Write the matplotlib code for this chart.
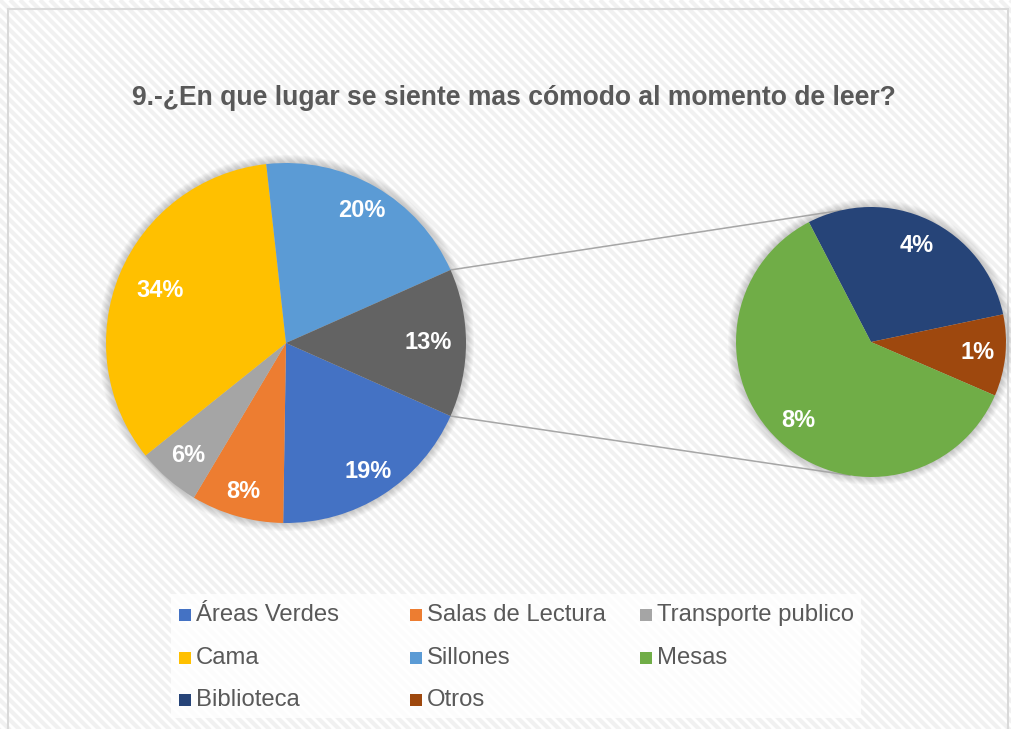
import matplotlib
matplotlib.use('Agg')
import matplotlib.pyplot as plt
from matplotlib.patches import Rectangle, Circle
from matplotlib.collections import LineCollection
import numpy as np

plt.rcParams['font.family'] = ['Liberation Sans', 'DejaVu Sans']

# ---------------- data ----------------
title = "9.-¿En que lugar se siente mas cómodo al momento de leer?"
main_labels = ["Áreas Verdes", "Salas de Lectura", "Transporte publico", "Cama", "Sillones"]
main_values = [18.6, 8.3, 5.7, 34.0, 20.1]
main_colors = ["#4472C4", "#ED7D31", "#A5A5A5", "#FFC000", "#5B9BD5"]
sub_labels = ["Biblioteca", "Otros", "Mesas"]
sub_values = [3.9, 1.3, 8.1]
sub_colors = ["#264478", "#9E480E", "#70AD47"]
other_color = "#636363"
legend_order = ["Áreas Verdes", "Salas de Lectura", "Transporte publico",
                "Cama", "Sillones", "Mesas", "Biblioteca", "Otros"]

# ---------------- figure ----------------
W, H = 1011, 729
fig = plt.figure(figsize=(W / 100, H / 100), dpi=100)
ax = fig.add_axes([0, 0, 1, 1])

def Y(py):
    return H - py

# chart frame with diagonal stripes
frame = Rectangle((7.5, -10), 1000.5, Y(9) + 10, facecolor='white',
                  edgecolor='none', zorder=0)
ax.add_patch(frame)
segs = []
for x0 in np.arange(-760, W + 20, 10):
    segs.append([(x0, Y(0)), (x0 + H + 20, Y(H + 20))])
lc = LineCollection(segs, colors='#F1F1F1', linewidths=3.0, zorder=0.5)
lc.set_clip_path(frame)
ax.add_collection(lc)
ax.add_patch(Rectangle((7.5, -10), 1000.5, Y(9) + 10, facecolor='none',
                       edgecolor='#D9D9D9', lw=1.5, zorder=0.8))

# ---------------- pies ----------------
total = sum(main_values) + sum(sub_values)
other_total = sum(sub_values)

c1 = (286, Y(343)); r1 = 180
c2 = (871, Y(342)); r2 = 135

# soft shadows
for (c, r) in [(c1, r1), (c2, r2)]:
    for i in range(1, 9):
        ax.add_patch(Circle(c, r + i, facecolor='black', edgecolor='none',
                            alpha=0.022, zorder=1))

vals1 = main_values + [other_total]
cols1 = main_colors + [other_color]
start1 = -other_total / total * 360 / 2
w1, _ = ax.pie(vals1, colors=cols1, center=c1, radius=r1, startangle=start1,
               counterclock=False, wedgeprops=dict(linewidth=0), frame=True)
w2, _ = ax.pie(sub_values, colors=sub_colors, center=c2, radius=r2, startangle=117.4,
               counterclock=False, wedgeprops=dict(linewidth=0), frame=True)
for w in w1 + w2:
    w.set_zorder(2)

label_frac1 = [0.85, 0.86, 0.83, 0.76, 0.85, 0.79]
for w, v, f in zip(w1, vals1, label_frac1):
    a = np.deg2rad((w.theta1 + w.theta2) / 2)
    ax.text(c1[0] + f * r1 * np.cos(a), c1[1] + f * r1 * np.sin(a),
            f"{round(v / total * 100)}%", ha='center', va='center',
            color='white', fontsize=17, fontweight='bold', zorder=3)
for w, v in zip(w2, sub_values):
    a = np.deg2rad((w.theta1 + w.theta2) / 2)
    ax.text(c2[0] + 0.79 * r2 * np.cos(a), c2[1] + 0.79 * r2 * np.sin(a),
            f"{round(v / total * 100)}%", ha='center', va='center',
            color='white', fontsize=17, fontweight='bold', zorder=3)

# connector lines
ow = w1[-1]
pts = [(c1[0] + r1 * np.cos(np.deg2rad(t)), c1[1] + r1 * np.sin(np.deg2rad(t)))
       for t in (ow.theta1, ow.theta2)]
pts.sort(key=lambda p: p[1])
lo, hi = pts
hi2 = (c2[0] + r2 * np.cos(np.deg2rad(103)), c2[1] + r2 * np.sin(np.deg2rad(103)))
lo2 = (c2[0] + r2 * np.cos(np.deg2rad(-99)), c2[1] + r2 * np.sin(np.deg2rad(-99)))
ax.plot([hi[0], hi2[0]], [hi[1], hi2[1]], color='#A6A6A6', lw=1.1, zorder=1.5)
ax.plot([lo[0], lo2[0]], [lo[1], lo2[1]], color='#A6A6A6', lw=1.1, zorder=1.5)

# ---------------- title ----------------
ax.text(514, Y(98), title, ha='center', va='center', fontsize=19.1,
        fontweight='bold', color='#595959', zorder=3)

# ---------------- legend ----------------
ax.add_patch(Rectangle((171, Y(718)), 690, 124, facecolor='white', alpha=0.8,
                       edgecolor='none', zorder=2))
color_map = dict(zip(main_labels + sub_labels, main_colors + sub_colors))
col_x = [179, 410, 640]
row_y = [615, 658, 700]
for i, name in enumerate(legend_order):
    cx = col_x[i % 3]; cy = row_y[i // 3]
    ax.add_patch(Rectangle((cx, Y(cy) - 6), 12, 12, facecolor=color_map[name],
                           edgecolor='none', zorder=3))
    ax.text(cx + 17, Y(cy), name, ha='left', va='center', fontsize=17.2,
            color='#595959', zorder=3)

ax.set_xlim(0, W)
ax.set_ylim(0, H)
ax.set_aspect('auto')
ax.axis('off')

fig.savefig('out.png', dpi=100)
